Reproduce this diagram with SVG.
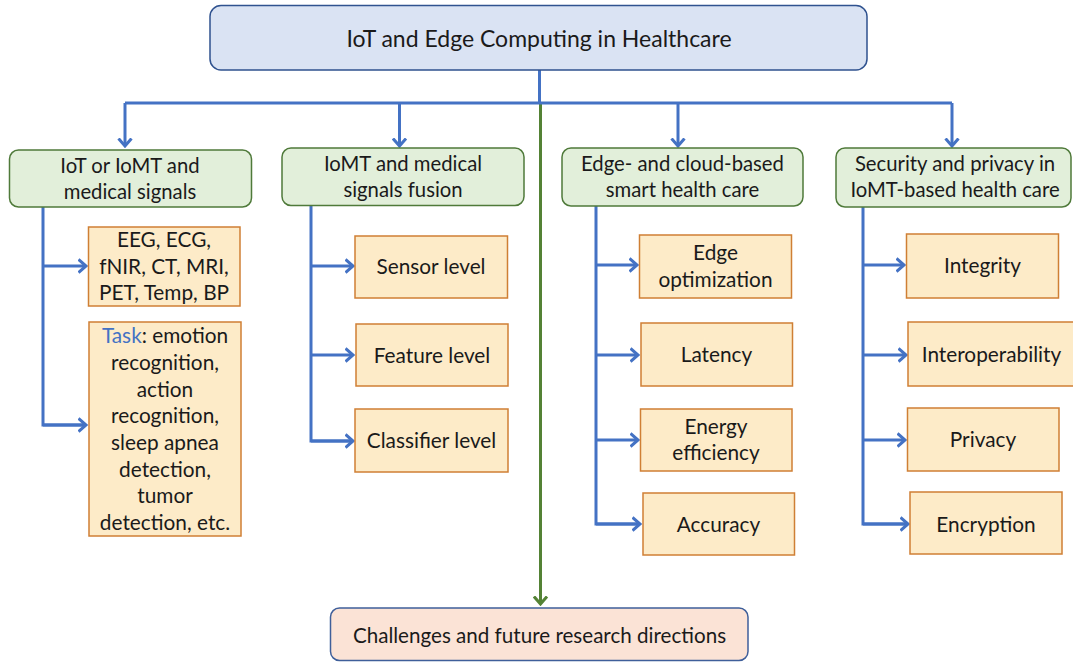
<svg xmlns="http://www.w3.org/2000/svg" width="1073" height="662" viewBox="0 0 1073 662">
<defs>
<style>
text{font-family:Lato,"Open Sans","Liberation Sans",sans-serif;fill:#1a1a1a;text-anchor:middle}
.t{font-size:23px}
.l2{font-size:20.3px}
.lf{font-size:20.8px}
.bt{font-size:20.6px}
.top{fill:#dae3f3;stroke:#2f528f;stroke-width:1.5}
.cat{fill:#e2efda;stroke:#4f7a3a;stroke-width:1.5}
.leaf{fill:#fdebc8;stroke:#cf7f34;stroke-width:1.5}
.bot{fill:#fbe3d6;stroke:#3f5f9a;stroke-width:1.5}
.c{fill:none;stroke:#4472c4;stroke-width:3}
.g{fill:none;stroke:#548235;stroke-width:3}
.task{fill:#4472c4}
</style>
<marker id="ab" viewBox="0 0 10 16" markerWidth="10" markerHeight="16" refX="8.5" refY="8" orient="auto" markerUnits="userSpaceOnUse">
<path d="M1,1.5 L8.5,8 L1,14.5" fill="none" stroke="#4472c4" stroke-width="3"/>
</marker>
<marker id="ag" viewBox="0 0 10 16" markerWidth="10" markerHeight="16" refX="8.5" refY="8" orient="auto" markerUnits="userSpaceOnUse">
<path d="M1,1.5 L8.5,8 L1,14.5" fill="none" stroke="#548235" stroke-width="3"/>
</marker>
</defs>
<rect width="1073" height="662" fill="#ffffff"/>

<g id="connectors">
<path class="g" d="M540.5,103 V604" marker-end="url(#ag)"/>
<path class="c" d="M539.5,70 V103"/>
<path class="c" d="M125,103 H952"/>
<path class="c" d="M125,103 V146" marker-end="url(#ab)"/>
<path class="c" d="M399.5,103 V146" marker-end="url(#ab)"/>
<path class="c" d="M678,103 V146" marker-end="url(#ab)"/>
<path class="c" d="M952,103 V146" marker-end="url(#ab)"/>
<path class="c" d="M43,207 V425 H86"/>
<path class="c" d="M43,266 H86" marker-end="url(#ab)"/>
<path class="c" d="M43,425 H86" marker-end="url(#ab)"/>
<path class="c" d="M311,205 V441 H353"/>
<path class="c" d="M311,266 H353" marker-end="url(#ab)"/>
<path class="c" d="M311,355 H353" marker-end="url(#ab)"/>
<path class="c" d="M311,441 H353" marker-end="url(#ab)"/>
<path class="c" d="M596,206 V524 H640"/>
<path class="c" d="M596,265 H637" marker-end="url(#ab)"/>
<path class="c" d="M596,355 H638" marker-end="url(#ab)"/>
<path class="c" d="M596,440 H638" marker-end="url(#ab)"/>
<path class="c" d="M596,524 H640" marker-end="url(#ab)"/>
<path class="c" d="M863,207 V524 H908"/>
<path class="c" d="M863,265 H904" marker-end="url(#ab)"/>
<path class="c" d="M863,355 H906" marker-end="url(#ab)"/>
<path class="c" d="M863,440 H905" marker-end="url(#ab)"/>
<path class="c" d="M863,524 H908" marker-end="url(#ab)"/>
</g>

<g id="n-root"><rect class="top" x="210" y="5.5" width="657" height="64.5" rx="11"/><text class="t" x="539" y="47">IoT and Edge Computing in Healthcare</text></g>

<g id="n-cat1"><rect class="cat" x="9.5" y="150" width="242" height="57" rx="9"/><text class="l2" x="130" y="173">IoT or IoMT and</text><text class="l2" x="130" y="199">medical signals</text></g>
<g id="n-cat2"><rect class="cat" x="282" y="148" width="242" height="57.5" rx="9"/><text class="l2" x="403" y="171">IoMT and medical</text><text class="l2" x="403" y="197">signals fusion</text></g>
<g id="n-cat3"><rect class="cat" x="562" y="148" width="241" height="58" rx="9"/><text class="l2" x="682.5" y="171">Edge- and cloud-based</text><text class="l2" x="682.5" y="197">smart health care</text></g>
<g id="n-cat4"><rect class="cat" x="836" y="148" width="235" height="59" rx="9"/><text class="l2" x="955" y="171">Security and privacy in</text><text class="l2" x="955" y="197">IoMT-based health care</text></g>

<g id="n-signals"><rect class="leaf" x="88.5" y="227" width="151.5" height="79"/><text class="lf" x="164" y="247">EEG, ECG,</text><text class="lf" x="164" y="273.5">fNIR, CT, MRI,</text><text class="lf" x="164" y="300">PET, Temp, BP</text></g>
<g id="n-task"><rect class="leaf" x="89" y="322" width="152" height="214"/>
<text class="lf" x="165" y="343"><tspan class="task">Task</tspan>: emotion</text>
<text class="lf" x="165" y="370">recognition,</text>
<text class="lf" x="165" y="396.5">action</text>
<text class="lf" x="165" y="423">recognition,</text>
<text class="lf" x="165" y="450">sleep apnea</text>
<text class="lf" x="165" y="476.5">detection,</text>
<text class="lf" x="165" y="503">tumor</text>
<text class="lf" x="165" y="530">detection, etc.</text></g>

<g id="n-sensor"><rect class="leaf" x="355" y="236" width="152.5" height="62"/><text class="lf" x="431" y="274">Sensor level</text></g>
<g id="n-feature"><rect class="leaf" x="356" y="324" width="152" height="62"/><text class="lf" x="432" y="363">Feature level</text></g>
<g id="n-classifier"><rect class="leaf" x="355" y="409" width="153" height="63"/><text class="lf" x="431.5" y="448">Classifier level</text></g>

<g id="n-edgeopt"><rect class="leaf" x="639.5" y="235" width="152" height="63"/><text class="lf" x="715.5" y="260">Edge</text><text class="lf" x="715.5" y="287">optimization</text></g>
<g id="n-latency"><rect class="leaf" x="641" y="323" width="151.5" height="63"/><text class="lf" x="716.5" y="362">Latency</text></g>
<g id="n-energy"><rect class="leaf" x="640.5" y="409" width="151.5" height="62"/><text class="lf" x="716" y="434">Energy</text><text class="lf" x="716" y="460">efficiency</text></g>
<g id="n-accuracy"><rect class="leaf" x="643" y="493" width="151.5" height="62"/><text class="lf" x="718.5" y="532">Accuracy</text></g>

<g id="n-integrity"><rect class="leaf" x="906.5" y="234" width="152" height="64"/><text class="lf" x="982.5" y="273">Integrity</text></g>
<g id="n-interop"><rect class="leaf" x="908" y="322" width="168" height="64"/><text class="lf" x="991.5" y="362">Interoperability</text></g>
<g id="n-privacy"><rect class="leaf" x="907.5" y="408" width="151.5" height="63"/><text class="lf" x="983" y="447">Privacy</text></g>
<g id="n-encryption"><rect class="leaf" x="910" y="492" width="152" height="62"/><text class="lf" x="986" y="532">Encryption</text></g>

<g id="n-challenges"><rect class="bot" x="330.5" y="608" width="417.5" height="52.5" rx="9"/><text class="bt" x="539.5" y="643">Challenges and future research directions</text></g>
</svg>
